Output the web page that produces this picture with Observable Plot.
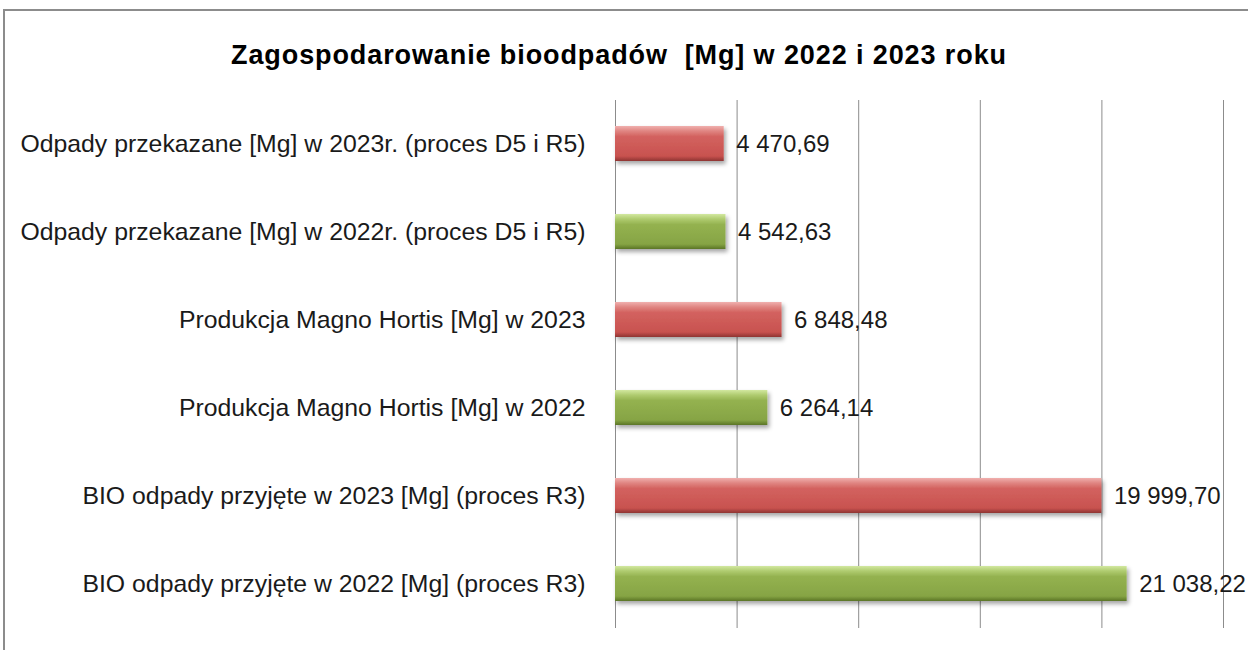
<!DOCTYPE html>
<html><head><meta charset="utf-8">
<script src="https://cdn.jsdelivr.net/npm/d3@7"></script>
<script src="https://cdn.jsdelivr.net/npm/@observablehq/plot@0.6"></script>
<style>
body{margin:0;background:#fff;width:1248px;height:650px;overflow:hidden;position:relative;font-family:"Liberation Sans",Arial,sans-serif}
#frame{position:absolute;left:3px;top:9px;width:1300px;height:700px;border:2px solid #8c8c8c;box-sizing:border-box}
#title{position:absolute;top:39px;left:0;width:1238px;text-align:center;font-weight:bold;font-size:27px;letter-spacing:0.9px;color:#000;line-height:32px}
#chart{position:absolute;left:0;top:85px}
</style></head><body>
<div id="frame"></div>
<div id="title">Zagospodarowanie bioodpadów&nbsp; [Mg] w 2022 i 2023 roku</div>
<div id="chart"></div>
<script>
const categories = [
  "Odpady przekazane [Mg] w 2023r. (proces D5 i R5)",
  "Odpady przekazane [Mg] w 2022r. (proces D5 i R5)",
  "Produkcja Magno Hortis [Mg] w 2023",
  "Produkcja Magno Hortis [Mg] w 2022",
  "BIO odpady przyjęte w 2023 [Mg] (proces R3)",
  "BIO odpady przyjęte w 2022 [Mg] (proces R3)"
];
const years = [2023, 2022, 2023, 2022, 2023, 2022];
const values = [4470.69, 4542.63, 6848.48, 6264.14, 19999.70, 21038.22];
const gridTicks = [0, 5000, 10000, 15000, 20000, 25000];

const fmt = d3.formatLocale({decimal: ",", thousands: " ", grouping: [3], currency: ["", ""]}).format(",.2f");
const data = categories.map((c, i) => ({category: c, year: years[i], value: values[i]}));

const chart = Plot.plot({
  width: 1248,
  height: 565,
  marginTop: 15,
  marginBottom: 22,
  marginLeft: 615,
  marginRight: 25,
  style: {fontFamily: "'Liberation Sans', Arial, sans-serif", color: "#1a1a1a", background: "transparent"},
  x: {domain: [0, 25000], axis: null},
  y: {domain: categories, paddingInner: 0.6, paddingOuter: 0.3, axis: null},
  marks: [
    Plot.gridX(gridTicks, {stroke: "#8c8c8c", strokeOpacity: 1, strokeWidth: 1}),
    Plot.barX(data.filter(d => d.year === 2023), {x: "value", y: "category", fill: "url(#gRed)"}),
    Plot.barX(data.filter(d => d.year === 2022), {x: "value", y: "category", fill: "url(#gGreen)"}),
    Plot.text(data, {x: "value", y: "category", text: d => fmt(d.value), textAnchor: "start", dx: 12, fontSize: 24, fill: "#1a1a1a"}),
    Plot.axisY({tickSize: 0, tickPadding: 30, fontSize: 24.8, label: null})
  ]
});

const svg = d3.select(chart);
svg.insert("defs", ":first-child").html(`
  <linearGradient id="gRed" x1="0" y1="0" x2="0" y2="1">
    <stop offset="0" stop-color="#f0b0ae"/>
    <stop offset="0.14" stop-color="#e08683"/>
    <stop offset="0.3" stop-color="#d3625f"/>
    <stop offset="0.86" stop-color="#c8524f"/>
    <stop offset="1" stop-color="#8e3432"/>
  </linearGradient>
  <linearGradient id="gGreen" x1="0" y1="0" x2="0" y2="1">
    <stop offset="0" stop-color="#d2e8a0"/>
    <stop offset="0.14" stop-color="#b0cc70"/>
    <stop offset="0.3" stop-color="#94b250"/>
    <stop offset="0.86" stop-color="#86a444"/>
    <stop offset="1" stop-color="#5a7526"/>
  </linearGradient>
  <filter id="shadow" x="-5%" y="-30%" width="115%" height="180%">
    <feDropShadow dx="2" dy="3" stdDeviation="2" flood-color="#000" flood-opacity="0.35"/>
  </filter>`);
svg.selectAll("rect").filter(function() { const f = this.getAttribute("fill") || (this.parentNode && this.parentNode.getAttribute("fill")); return f && f.startsWith("url"); }).attr("filter", "url(#shadow)");
document.getElementById("chart").appendChild(chart);
</script>
</body></html>
